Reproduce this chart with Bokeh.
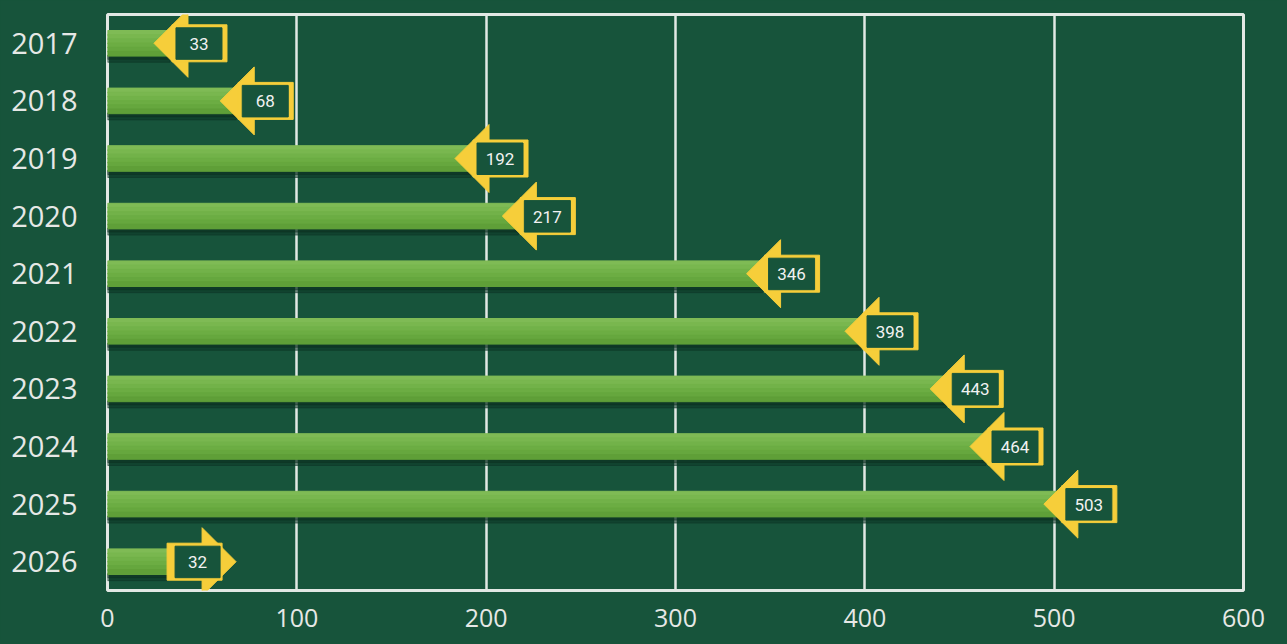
import numpy as np
from bokeh.plotting import figure
from bokeh.models import Range1d, FixedTicker
from bokeh.core.properties import value
from bokeh.embed import file_html
from bokeh.resources import INLINE

# ---- data ----
years = ["2017", "2018", "2019", "2020", "2021", "2022", "2023", "2024", "2025", "2026"]
counts = [33, 68, 192, 217, 346, 398, 443, 464, 503, 32]
label_side = ["left", "left", "left", "left", "left", "left", "left", "left", "left", "right"]
x_ticks = [0, 100, 200, 300, 400, 500, 600]

# ---- style ----
BG = "#17543B"
GRID = "#E2E8E4"
YELLOW = "#F6CE3A"
LABEL = "#E6E8E6"
FRAME_W, FRAME_H = 1136, 576
XMAX = x_ticks[-1]
PXX = XMAX / FRAME_W          # data units per pixel, x
PXY = len(years) / FRAME_H    # data units per pixel, y

idx = np.arange(len(years))
vals = np.array(counts, dtype=float)

p = figure(frame_width=FRAME_W, frame_height=FRAME_H,
           x_range=Range1d(0, XMAX), y_range=Range1d(len(years) - 0.5, -0.5),
           output_backend="svg", toolbar_location=None,
           min_border_left=107, min_border_top=14, min_border_right=36, min_border_bottom=50,
           background_fill_color=BG, border_fill_color=BG)

# grid / outline
p.xgrid.ticker = FixedTicker(ticks=x_ticks)
p.xgrid.grid_line_color = GRID
p.xgrid.grid_line_width = 2.5
p.ygrid.grid_line_color = None
p.outline_line_color = GRID
p.outline_line_width = 3

# axes
p.xaxis.ticker = FixedTicker(ticks=x_ticks)
p.yaxis.ticker = FixedTicker(ticks=list(idx))
p.yaxis.major_label_overrides = {int(i): y for i, y in zip(idx, years)}
for ax in (p.xaxis[0], p.yaxis[0]):
    ax.axis_line_color = None
    ax.major_tick_line_color = None
    ax.minor_tick_line_color = None
    ax.major_label_text_color = LABEL
    ax.major_label_text_font = "Open Sans"
p.yaxis.major_label_text_font_size = "29px"
p.yaxis.major_label_standoff = 24
p.xaxis.major_label_text_font_size = "25px"
p.xaxis.major_label_standoff = 12

# bar shadows
p.hbar(y=idx + 15.5 * PXY, left=0, right=vals, height=7 * PXY, color="#0C3526", alpha=0.55)
p.hbar(y=idx + 14 * PXY, left=0, right=vals, height=4 * PXY, color="#0A2E20", alpha=0.45)

# bars with vertical gradient (strips)
strip_cols = ["#7FBB55", "#79B74F", "#72B249", "#6CAD43", "#66A73E", "#5F9F38"]
n = len(strip_cols)
bar_h = 25.0
for k, c in enumerate(strip_cols):
    top = -bar_h / 2 + k * bar_h / n
    p.hbar(y=idx + (top + bar_h / n / 2) * PXY, left=0, right=vals,
           height=(bar_h / n + 0.6) * PXY, color=c)

# callouts
tri_xs, tri_ys = [], []
yl, yr, dl, dr, tx = [], [], [], [], []
for i, v, side in zip(idx, vals, label_side):
    if side == "left":
        tip = v - 16 * PXX
        d = 1
        y_left, y_right = tip + 18 * PXX, tip + 73 * PXX
        d_left, d_right = tip + 22 * PXX, tip + 68 * PXX
    else:
        tip = v + 68 * PXX
        d = -1
        y_left, y_right = tip - 69 * PXX, tip - 14 * PXX
        d_left, d_right = tip - 61 * PXX, tip - 16 * PXX
    base = tip + d * 34 * PXX
    tri_xs.append([tip, base, base])
    tri_ys.append([i, i - 34 * PXY, i + 34 * PXY])
    yl.append(y_left); yr.append(y_right)
    dl.append(d_left); dr.append(d_right)
    tx.append((d_left + d_right) / 2)

p.patches(tri_xs, tri_ys, color=YELLOW)
p.quad(left=yl, right=yr, top=idx - 18.5 * PXY, bottom=idx + 18.5 * PXY, color=YELLOW)
p.quad(left=dl, right=dr, top=idx - 15.5 * PXY, bottom=idx + 16 * PXY, color=BG)
p.text(x=tx, y=idx + 0.5 * PXY, text=[str(c) for c in counts],
       text_align="center", text_baseline="middle",
       text_font=value("Roboto"), text_font_size="17px", text_color="#F2F2F2")

html = file_html(p, INLINE, title="chart")
html = html.replace("</head>", "<style>html,body{background:%s;}</style></head>" % BG)
open("out.html", "w").write(html)
